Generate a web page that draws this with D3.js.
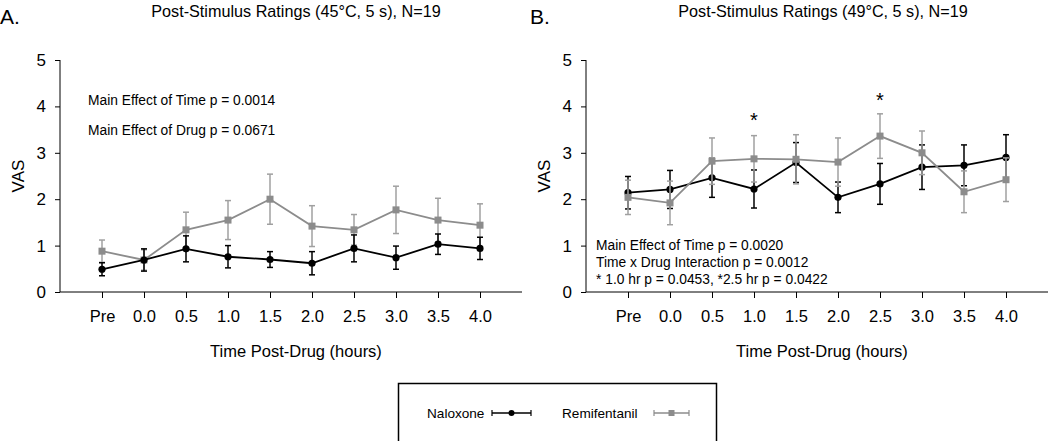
<!DOCTYPE html>
<html><head><meta charset="utf-8">
<script src="https://cdn.jsdelivr.net/npm/d3@7"></script>
<style>body{margin:0;background:#fff}svg{display:block}text{font-family:"Liberation Sans",Arial,sans-serif;fill:#000}</style>
</head><body><svg id="c" width="1050" height="441"></svg>
<script>
const categories = ["Pre","0.0","0.5","1.0","1.5","2.0","2.5","3.0","3.5","4.0"];
const yTicks = [0,1,2,3,4,5];
// Panel A (45°C)
const aNalMean = [0.49,0.69,0.93,0.76,0.70,0.62,0.94,0.74,1.03,0.94];
const aNalErr  = [0.14,0.24,0.28,0.24,0.17,0.25,0.29,0.25,0.22,0.24];
const aRemMean = [0.88,0.69,1.34,1.55,2.00,1.42,1.34,1.77,1.55,1.44];
const aRemErr  = [0.24,0.22,0.38,0.42,0.54,0.44,0.33,0.51,0.47,0.46];
// Panel B (49°C)
const bNalMean = [2.14,2.21,2.46,2.22,2.79,2.04,2.33,2.69,2.73,2.90];
const bNalErr  = [0.35,0.41,0.42,0.41,0.43,0.33,0.44,0.48,0.44,0.49];
const bRemMean = [2.04,1.92,2.82,2.87,2.86,2.80,3.36,3.00,2.16,2.42];
const bRemErr  = [0.37,0.47,0.50,0.50,0.53,0.52,0.48,0.47,0.45,0.47];
const seriesNames = ["Naloxone","Remifentanil"];

const svg = d3.select("#c");
const BLACK="#000", GRAY="#8c8c8c", GRAYE="#a0a0a0";

function panel(opt){
  const x0 = opt.x0, yTop=60, yBot=292;
  const x = d3.scaleLinear().domain([-1,10]).range([x0, x0+462]);
  const y = d3.scaleLinear().domain([0,5]).range([yBot,yTop]);
  const g = svg.append("g");
  // y axis
  const ya = g.append("g").attr("transform",`translate(${x0},0)`)
    .call(d3.axisLeft(y).tickValues(yTicks).tickFormat(d3.format("d")).tickSize(5).tickPadding(9));
  ya.select(".domain").attr("d",`M0,${yTop}V${yBot}`);
  ya.selectAll("text").style("font-size","17px").style("font-family","Liberation Sans, Arial");
  // x axis
  const xa = g.append("g").attr("transform",`translate(0,${yBot})`)
    .call(d3.axisBottom(x).tickValues(d3.range(10)).tickFormat(i=>categories[i]).tickSize(6).tickPadding(12));
  xa.select(".domain").attr("d",`M${x0},0H${x0+462}`);
  xa.selectAll("text").style("font-size","16.5px").style("font-family","Liberation Sans, Arial");
  g.selectAll(".domain,.tick line").attr("stroke","#000").attr("stroke-width",1);
  // labels
  g.append("text").attr("transform",`translate(${opt.x0-36},${176}) rotate(-90)`)
    .attr("text-anchor","middle").style("font-size","17px").text("VAS");
  g.append("text").attr("x",x0+236).attr("y",357).attr("text-anchor","middle")
    .style("font-size","16.5px").text("Time Post-Drug (hours)");
  g.append("text").attr("x",opt.lx).attr("y",24).style("font-size","21px").text(opt.letter);
  g.append("text").attr("x",opt.tx).attr("y",17).attr("text-anchor","middle")
    .style("font-size","16.2px").text(opt.title);
  opt.notes.forEach(n=>g.append("text").attr("x",n[0]).attr("y",n[1]).style("font-size","13.8px").text(n[2]));
  (opt.stars||[]).forEach(s=>g.append("text").attr("x",x(s[0])).attr("y",y(s[1])).attr("text-anchor","middle").style("font-size","20px").text("*"));

  function series(mean, err, color, ecolor, shape){
    const idx = d3.range(mean.length);
    const gs = g.append("g");
    idx.forEach(i=>{
      const cx = x(i), t=y(mean[i]+err[i]), b=y(Math.max(0,mean[i]-err[i]));
      gs.append("line").attr("x1",cx).attr("x2",cx).attr("y1",t).attr("y2",b).attr("stroke",ecolor).attr("stroke-width",1.5);
      [t,b].forEach(v=>gs.append("line").attr("x1",cx-3).attr("x2",cx+3).attr("y1",v).attr("y2",v).attr("stroke",ecolor).attr("stroke-width",1.5));
    });
    gs.append("path").datum(idx).attr("fill","none").attr("stroke",color).attr("stroke-width",1.8)
      .attr("d",d3.line().x(i=>x(i)).y(i=>y(mean[i])));
    if(shape==="circle"){
      gs.selectAll("circle").data(idx).join("circle").attr("cx",i=>x(i)).attr("cy",i=>y(mean[i])).attr("r",3.6).attr("fill",color);
    } else {
      gs.selectAll("rect").data(idx).join("rect").attr("x",i=>x(i)-3.5).attr("y",i=>y(mean[i])-3.5).attr("width",7).attr("height",7).attr("fill",color);
    }
  }
  if(opt.remFirst){
    series(opt.rm,opt.re,GRAY,GRAYE,"square");
    series(opt.nm,opt.ne,BLACK,BLACK,"circle");
  } else {
    series(opt.nm,opt.ne,BLACK,BLACK,"circle");
    series(opt.rm,opt.re,GRAY,GRAYE,"square");
  }
}

panel({x0:60, letter:"A.", lx:0, tx:296, title:"Post-Stimulus Ratings (45°C, 5 s), N=19",
  nm:aNalMean, ne:aNalErr, rm:aRemMean, re:aRemErr, remFirst:true,
  notes:[[88,105,"Main Effect of Time p = 0.0014"],[88,135,"Main Effect of Drug p = 0.0671"]]});
panel({x0:586, letter:"B.", lx:530, tx:823, title:"Post-Stimulus Ratings (49°C, 5 s), N=19",
  nm:bNalMean, ne:bNalErr, rm:bRemMean, re:bRemErr, remFirst:false,
  stars:[[3,3.55],[6,3.98]],
  notes:[[596,250,"Main Effect of Time p = 0.0020"],[596,267,"Time x Drug Interaction p = 0.0012"],[596,284,"* 1.0 hr p = 0.0453, *2.5 hr p = 0.0422"]]});

// legend
const lg = svg.append("g");
lg.append("rect").attr("x",398.5).attr("y",383.5).attr("width",318).attr("height",70).attr("fill","#fff").attr("stroke","#000").attr("stroke-width",1.5);
const legItems = [{name:seriesNames[0],tx:427,lx0:492,lx1:531,color:BLACK,shape:"circle"},
                  {name:seriesNames[1],tx:562,lx0:654,lx1:689,color:GRAY,shape:"square"}];
legItems.forEach(d=>{
  lg.append("text").attr("x",d.tx).attr("y",418).style("font-size","13.6px").text(d.name);
  const cy=413, c=(d.lx0+d.lx1)/2;
  lg.append("line").attr("x1",d.lx0).attr("x2",d.lx1).attr("y1",cy).attr("y2",cy).attr("stroke",d.color).attr("stroke-width",1.5);
  [d.lx0,d.lx1].forEach(v=>lg.append("line").attr("x1",v).attr("x2",v).attr("y1",cy-3).attr("y2",cy+3).attr("stroke",d.color).attr("stroke-width",1.2));
  if(d.shape==="circle") lg.append("circle").attr("cx",c).attr("cy",cy).attr("r",3).attr("fill",d.color);
  else lg.append("rect").attr("x",c-3).attr("y",cy-3).attr("width",6).attr("height",6).attr("fill",d.color);
});
</script></body></html>
